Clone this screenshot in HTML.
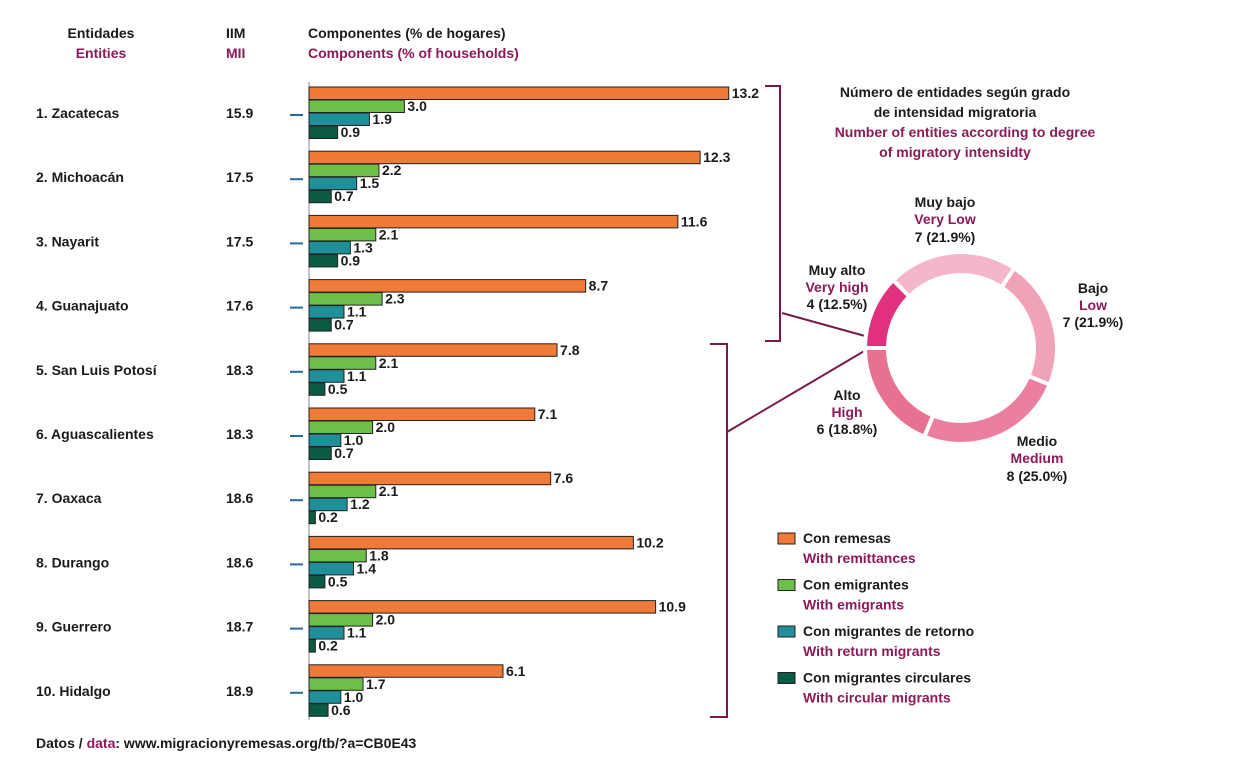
<!DOCTYPE html>
<html><head><meta charset="utf-8"><style>
body{margin:0;background:#fff;width:1237px;height:761px;overflow:hidden;font-family:"Liberation Sans",sans-serif}
svg text{font-family:"Liberation Sans",sans-serif;font-weight:bold;font-size:14px;fill:#1a1a1a}
.m{fill:#8b1a5a}
</style></head><body>
<svg id="chart" width="1237" height="761" viewBox="0 0 1237 761">
<g>
<text x="101" y="38" text-anchor="middle">Entidades</text>
<text x="101" y="58" text-anchor="middle" class="m">Entities</text>
<text x="226" y="38">IIM</text>
<text x="226" y="58" class="m">MII</text>
<text x="308" y="38">Componentes (% de hogares)</text>
<text x="308" y="58" class="m">Components (% of households)</text>
</g>
<g id="bars"></g>
<g stroke="#7a1a4a" stroke-width="2" fill="none">
<path d="M765 86 H780 V341 H765"/>
<line x1="782" y1="313" x2="865" y2="336"/>
<path d="M710 344 H727 V717 H710"/>
<line x1="727" y1="432" x2="866" y2="350"/>
</g>
<g text-anchor="middle">
<text x="955" y="97">Número de entidades según grado</text>
<text x="955" y="117">de intensidad  migratoria</text>
<text x="965" y="137" class="m">Number of entities according to degree</text>
<text x="955" y="157" class="m">of migratory intensidty</text>
</g>
<g id="donut"></g>
<g>
<text x="945" y="207" font-size="13" text-anchor="middle">Muy bajo</text><text x="945" y="224" font-size="13" text-anchor="middle" class="m">Very Low</text><text x="945" y="242" font-size="13" text-anchor="middle">7 (21.9%)</text>
<text x="837" y="275" font-size="13" text-anchor="middle">Muy alto</text><text x="837" y="292" font-size="13" text-anchor="middle" class="m">Very high</text><text x="837" y="309" font-size="13" text-anchor="middle">4 (12.5%)</text>
<text x="1093" y="293" font-size="13" text-anchor="middle">Bajo</text><text x="1093" y="310" font-size="13" text-anchor="middle" class="m">Low</text><text x="1093" y="327" font-size="13" text-anchor="middle">7 (21.9%)</text>
<text x="847" y="400" font-size="13" text-anchor="middle">Alto</text><text x="847" y="417" font-size="13" text-anchor="middle" class="m">High</text><text x="847" y="434" font-size="13" text-anchor="middle">6 (18.8%)</text>
<text x="1037" y="446" font-size="13" text-anchor="middle">Medio</text><text x="1037" y="463" font-size="13" text-anchor="middle" class="m">Medium</text><text x="1037" y="481" font-size="13" text-anchor="middle">8 (25.0%)</text>
</g>
<g id="legend"></g>
<text x="36" y="748" font-size="12">Datos / <tspan class="m">data</tspan>: www.migracionyremesas.org/tb/?a=CB0E43</text>
</svg>
<script>
const entities=["1. Zacatecas","2. Michoacán","3. Nayarit","4. Guanajuato","5. San Luis Potosí","6. Aguascalientes","7. Oaxaca","8. Durango","9. Guerrero","10. Hidalgo"];
const mii=["15.9","17.5","17.5","17.6","18.3","18.3","18.6","18.6","18.7","18.9"];
const remittances=[13.2,12.3,11.6,8.7,7.8,7.1,7.6,10.2,10.9,6.1];
const emigrants=[3.0,2.2,2.1,2.3,2.1,2.0,2.1,1.8,2.0,1.7];
const returnMig=[1.9,1.5,1.3,1.1,1.1,1.0,1.2,1.4,1.1,1.0];
const circular=[0.9,0.7,0.9,0.7,0.5,0.7,0.2,0.5,0.2,0.6];
const seriesNames=[["Con remesas","With remittances"],["Con emigrantes","With emigrants"],["Con migrantes de retorno","With return migrants"],["Con migrantes circulares","With circular migrants"]];
const donutLabels=["Muy alto","Muy bajo","Bajo","Medio","Alto"];
const donutValues=[4,7,7,8,6];
const NS="http://www.w3.org/2000/svg";
function mk(t,a,p){const e=document.createElementNS(NS,t);for(const k in a)e.setAttribute(k,a[k]);p.appendChild(e);return e;}
const x0=309,scale=31.8;
const xS=v=>x0+v*scale;
const gy=i=>87+i*64.2;
const colors=["#f07a38","#6cc04a","#1f8f9a","#0b5a45"];
const series=[remittances,emigrants,returnMig,circular];
const bars=document.getElementById('bars');
mk('line',{x1:x0,y1:82,x2:x0,y2:720,stroke:'#888','stroke-width':1},bars);
entities.forEach((name,i)=>{
  const y=gy(i);
  const t=mk('text',{x:36,y:y+31},bars);t.textContent=name;
  
  
  const m=mk('text',{x:226,y:y+31},bars);m.textContent=mii[i];
  
  
  mk('line',{x1:290,y1:y+28,x2:303,y2:y+28,stroke:'#2a6a9a','stroke-width':2},bars);
  series.forEach((s,j)=>{
    const by=y+j*13;
    const r=mk('rect',{x:x0,y:by,width:xS(s[i])-x0,height:12.5,fill:colors[j],stroke:'#222','stroke-width':1},bars);
    
    
    const l=mk('text',{x:xS(s[i])+3,y:by+11,'font-size':13},bars);l.textContent=s[i].toFixed(1);
    
    
  });
});
const donut=document.getElementById('donut');
const cx=961,cy=348,R=96,r=73,dc=["#e0307f","#f4b6c9","#f0a2b9","#ea7f9f","#e6728f"];
const total=donutValues.reduce((a,b)=>a+b,0);
let a=270;
donutValues.forEach((v,i)=>{
  const a1=a,a2=a+v/total*360;a=a2;
  const p=(ang,rad)=>{const t=(ang-90)*Math.PI/180;return [cx+rad*Math.cos(t),cy+rad*Math.sin(t)];};
  const [x1,y1]=p(a1,R),[x2,y2]=p(a2,R),[x3,y3]=p(a2,r),[x4,y4]=p(a1,r);
  const lg=(a2-a1)>180?1:0;
  const s=mk('path',{d:`M${x1} ${y1}A${R} ${R} 0 ${lg} 1 ${x2} ${y2}L${x3} ${y3}A${r} ${r} 0 ${lg} 0 ${x4} ${y4}Z`,fill:dc[i],stroke:'#fff','stroke-width':4},donut);
  
  
});
const lg=document.getElementById('legend');
seriesNames.forEach((n,j)=>{
  const y=533+j*46.5;
  const r=mk('rect',{x:778,y:y,width:17,height:11,fill:colors[j],stroke:'#222','stroke-width':1},lg);
  
  
  const t=mk('text',{x:803,y:y+10},lg);t.textContent=n[0];
  
  
  const t2=mk('text',{x:803,y:y+30,class:'m'},lg);t2.textContent=n[1];
  
  
});
</script>
</body></html>
